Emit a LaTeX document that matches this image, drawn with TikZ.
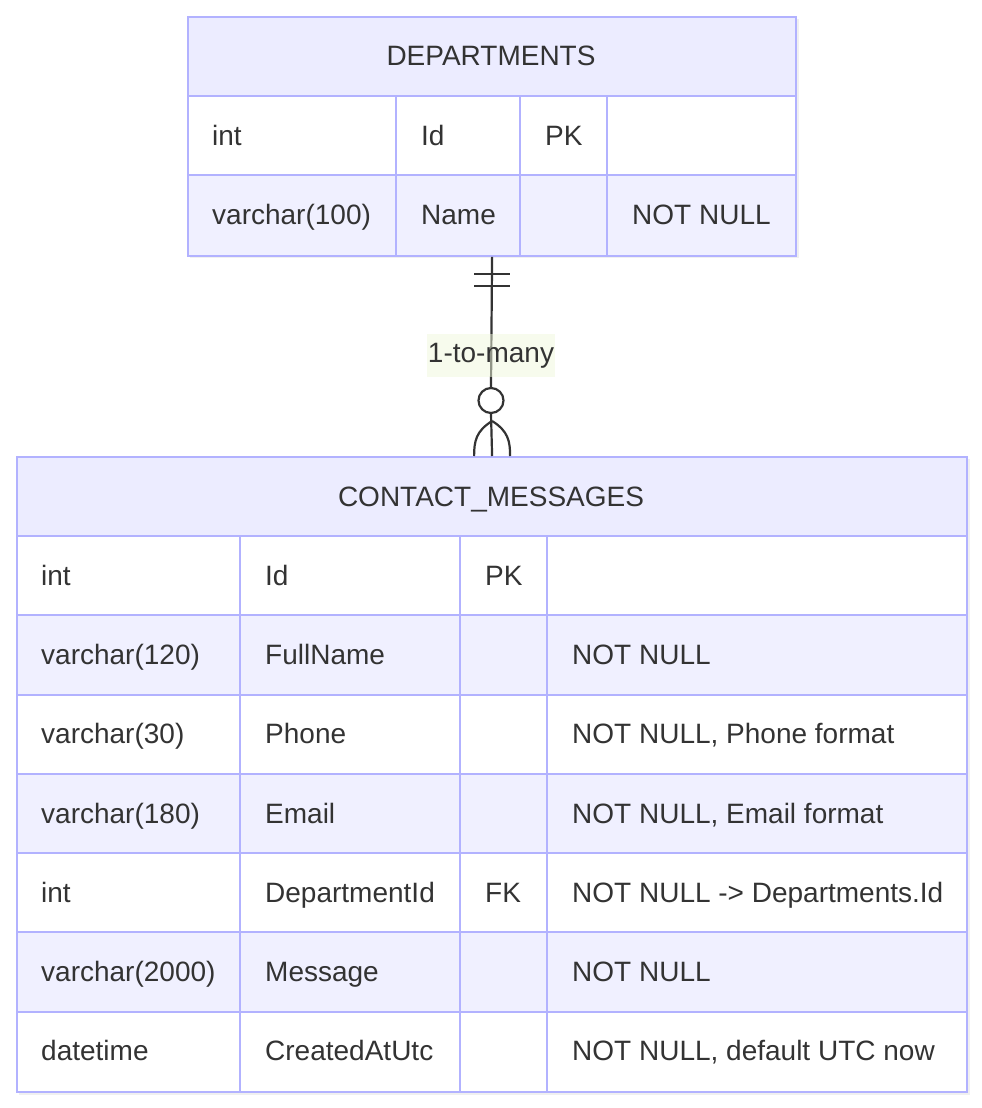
\documentclass[tikz,border=0pt]{standalone}
\usepackage{fontspec}
\setmainfont{Liberation Sans}
\definecolor{bd}{RGB}{178,178,255}
\definecolor{hdr}{RGB}{236,236,255}
\definecolor{rowb}{RGB}{240,240,255}
\definecolor{txt}{RGB}{51,51,51}
\definecolor{lbl}{RGB}{240,248,220}
\begin{document}
\begin{tikzpicture}[x=1pt,y=-1pt,
  cell/.style={font=\fontsize{28}{34}\selectfont, text=txt, inner sep=0pt, anchor=base west},
  ttl/.style={font=\fontsize{28}{34}\selectfont, text=txt, inner sep=0pt, anchor=base},
  gridln/.style={draw=bd, line width=2pt},
  ent/.style={draw=bd, line width=2.2pt, inner sep=0pt, anchor=north west},
  rel/.style={draw=txt, line width=2.2pt},
  shd/.style={fill=black, opacity=0.06}]
\useasboundingbox (0,0) rectangle (982,1108);

% ---------- DEPARTMENTS ----------
\fill[shd] (190,19) rectangle (799,258);
\fill[shd] (189,18) rectangle (797,256);
\fill[hdr] (187,16) rectangle (795,96);
\fill[white] (187,96) rectangle (795,175.3);
\fill[rowb] (187,175.3) rectangle (795,254.6);
\draw[gridln] (187,96) -- (795,96);
\draw[gridln] (187,175.3) -- (795,175.3);
\draw[gridln] (396,96) -- (396,254.6);
\draw[gridln] (520,96) -- (520,254.6);
\draw[gridln] (607,96) -- (607,254.6);
\node[ent, minimum width=608pt, minimum height=238.6pt] (dep) at (187,16) {};
\node[ttl] (depT) at (491,66) {DEPARTMENTS};
\node[cell] (d11) at (212,145) {int};
\node[cell] (d12) at (421,145) {Id};
\node[cell] (d13) at (545,145) {PK};
\node[cell] (d21) at (212,224.3) {varchar(100)};
\node[cell] (d22) at (421,224.3) {Name};
\node[cell] (d24) at (632,224.3) {NOT NULL};

% ---------- CONTACT_MESSAGES ----------
\fill[shd] (19,459) rectangle (970,1095);
\fill[shd] (18,458) rectangle (968,1093);
\fill[hdr] (16,456) rectangle (966,536);
\fill[white] (16,536) rectangle (966,615.3);
\fill[rowb] (16,615.3) rectangle (966,694.6);
\fill[white] (16,694.6) rectangle (966,773.9);
\fill[rowb] (16,773.9) rectangle (966,853.1);
\fill[white] (16,853.1) rectangle (966,932.4);
\fill[rowb] (16,932.4) rectangle (966,1011.7);
\fill[white] (16,1011.7) rectangle (966,1091);
\foreach \yy in {536,615.3,694.6,773.9,853.1,932.4,1011.7}
  \draw[gridln] (16,\yy) -- (966,\yy);
\foreach \xx in {240,460,547}
  \draw[gridln] (\xx,536) -- (\xx,1091);
\node[ent, minimum width=950pt, minimum height=635pt] (cm) at (16,456) {};
\node[ttl] (cmT) at (491,506) {CONTACT\_MESSAGES};

\node[cell] (c11) at (41,585.1) {int};
\node[cell] (c12) at (265,585.1) {Id};
\node[cell] (c13) at (485,585.1) {PK};

\node[cell] (c21) at (41,664.4) {varchar(120)};
\node[cell] (c22) at (265,664.4) {FullName};
\node[cell] (c24) at (572,664.4) {NOT NULL};

\node[cell] (c31) at (41,743.7) {varchar(30)};
\node[cell] (c32) at (265,743.7) {Phone};
\node[cell] (c34) at (572,743.7) {NOT NULL, Phone format};

\node[cell] (c41) at (41,823) {varchar(180)};
\node[cell] (c42) at (265,823) {Email};
\node[cell] (c44) at (572,823) {NOT NULL, Email format};

\node[cell] (c51) at (41,902.3) {int};
\node[cell] (c52) at (265,902.3) {DepartmentId};
\node[cell] (c53) at (485,902.3) {FK};
\node[cell] (c54) at (572,902.3) {NOT NULL -> Departments.Id};

\node[cell] (c61) at (41,981.6) {varchar(2000)};
\node[cell] (c62) at (265,981.6) {Message};
\node[cell] (c64) at (572,981.6) {NOT NULL};

\node[cell] (c71) at (41,1060.9) {datetime};
\node[cell] (c72) at (265,1060.9) {CreatedAtUtc};
\node[cell] (c74) at (572,1060.9) {NOT NULL, default UTC now};

% ---------- relationship ----------
\node[circle, draw=txt, fill=white, line width=2.2pt, minimum size=25pt, inner sep=0pt] (circ) at (491,400.5) {};
\draw[rel] (dep.south) -- (circ.north);
\draw[rel] (circ.south) -- (cm.north);
\draw[rel] ([xshift=-18pt,yshift=-17pt]dep.south) -- ([xshift=18pt,yshift=-17pt]dep.south);
\draw[rel] ([xshift=-18pt,yshift=-29pt]dep.south) -- ([xshift=18pt,yshift=-29pt]dep.south);
\coordinate (cf) at ([yshift=35pt]cm.north);
\coordinate (cfl) at ([xshift=-18pt]cm.north);
\coordinate (cfr) at ([xshift=18pt]cm.north);
\draw[rel] (cf) .. controls +(-16,10) and +(0,-15) .. (cfl);
\draw[rel] (cf) .. controls +(16,10) and +(0,-15) .. (cfr);
\node[fill=lbl, fill opacity=0.5, text opacity=1, text=txt, font=\fontsize{28}{34}\selectfont,
      inner xsep=1pt, inner ysep=0pt, text height=20pt, text depth=6pt, minimum height=43pt] (lab) at (491,355.5) {1-to-many};
\end{tikzpicture}
\end{document}
